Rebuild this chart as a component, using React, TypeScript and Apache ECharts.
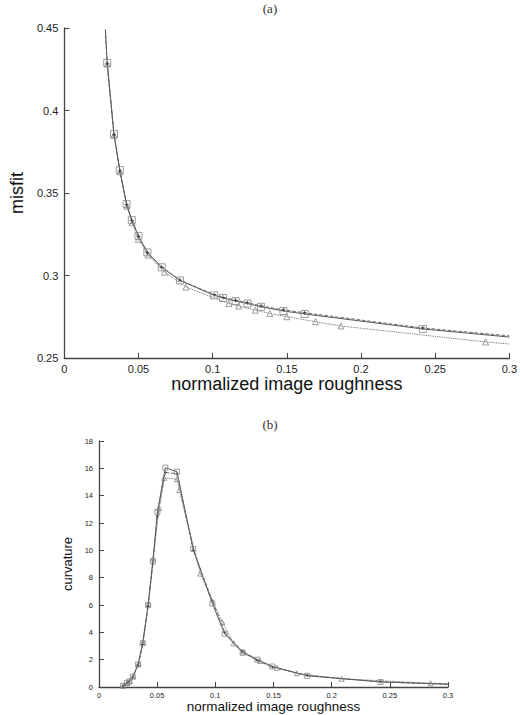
import { useEffect, useRef } from 'react';
import * as echarts from 'echarts';

// ---------------------------------------------------------------------------
// Data
// ---------------------------------------------------------------------------

// (a) misfit vs normalized image roughness
const misfitSquareX = [0.0277, 0.0289, 0.0335, 0.0374, 0.042, 0.0455, 0.05, 0.056, 0.0657, 0.078, 0.101, 0.107, 0.1155, 0.1235, 0.1326, 0.1477, 0.162, 0.2417, 0.3];
const misfitSquareY = [0.449, 0.4288, 0.3858, 0.3639, 0.3433, 0.3336, 0.324, 0.314, 0.305, 0.297, 0.288, 0.2864, 0.2845, 0.283, 0.281, 0.2785, 0.2767, 0.2676, 0.2627];
const misfitPlusY = [0.449, 0.4282, 0.3852, 0.3634, 0.343, 0.3332, 0.3238, 0.3138, 0.305, 0.2972, 0.2884, 0.2868, 0.285, 0.2835, 0.2816, 0.2792, 0.2774, 0.2682, 0.2634];
const misfitTriX = [0.0289, 0.0335, 0.0376, 0.0422, 0.0458, 0.0499, 0.0565, 0.0676, 0.082, 0.111, 0.1175, 0.1287, 0.1385, 0.15, 0.1694, 0.1865, 0.284, 0.3];
const misfitTriY = [0.4282, 0.385, 0.3628, 0.342, 0.332, 0.322, 0.3124, 0.302, 0.293, 0.283, 0.2815, 0.279, 0.277, 0.275, 0.272, 0.2694, 0.2597, 0.2585];

// (b) curvature vs normalized image roughness
const curvSquareX = [0.0207, 0.024, 0.026, 0.029, 0.0336, 0.0375, 0.0422, 0.0463, 0.0502, 0.057, 0.067, 0.081, 0.0975, 0.108, 0.1235, 0.136, 0.149, 0.179, 0.242, 0.3];
const curvSquareY = [0.1, 0.3, 0.4, 0.75, 1.65, 3.2, 6.0, 9.2, 12.8, 16.05, 15.75, 10.1, 6.1, 3.9, 2.5, 2.0, 1.5, 0.82, 0.37, 0.2];
const curvPlusY = [0.08, 0.28, 0.42, 0.7, 1.6, 3.1, 5.9, 9.0, 12.5, 15.7, 15.6, 10.0, 6.3, 4.0, 2.6, 1.95, 1.45, 0.85, 0.38, 0.2];
const curvTriX = [0.021, 0.0245, 0.0265, 0.0295, 0.034, 0.038, 0.0425, 0.0465, 0.0517, 0.056, 0.067, 0.069, 0.087, 0.106, 0.1157, 0.124, 0.1385, 0.153, 0.17, 0.2086, 0.285, 0.3];
const curvTriY = [0.1, 0.3, 0.45, 0.8, 1.7, 3.3, 6.1, 9.4, 13.1, 15.3, 15.2, 14.4, 8.3, 4.75, 3.2, 2.6, 1.9, 1.4, 1.0, 0.6, 0.28, 0.24];

const xTicks = [0, 0.05, 0.1, 0.15, 0.2, 0.25, 0.3];

// ---------------------------------------------------------------------------
// Helpers
// ---------------------------------------------------------------------------

const LINE = '#5a5a5a';
const MARK = '#858585';
const SANS = '"Liberation Sans", Arial, sans-serif';
const PLUS = 'path://M4,0H6V4H10V6H6V10H4V6H0V4H4Z';

// first/last points of the curves carry no marker (curve ends)
function pts(xs: number[], ys: number[], bare: number[]) {
  return xs.map((x, i) =>
    bare.includes(i) ? { value: [x, ys[i]], symbol: 'none' } : { value: [x, ys[i]] },
  );
}

function lineSeries(
  name: string,
  data: any[],
  idx: number,
  type: 'solid' | 'dashed' | 'dotted',
  symbol: string,
  size: number,
  filled: boolean,
) {
  return {
    name,
    type: 'line',
    xAxisIndex: idx,
    yAxisIndex: idx,
    data,
    symbol,
    symbolSize: size,
    showAllSymbol: true,
    smooth: false,
    lineStyle: { color: LINE, width: type === 'solid' ? 1 : 0.9, type },
    itemStyle: {
      color: filled ? '#3a3a3a' : 'rgba(255,255,255,0)',
      borderColor: MARK,
      borderWidth: filled ? 0 : 0.8,
    },
    emphasis: { disabled: true },
    z: 3,
  };
}

function axisBase(fontSize: number, margin: number) {
  return {
    axisLine: { show: true, onZero: false, lineStyle: { color: '#444', width: 1.3 } },
    axisTick: { show: true, inside: true, length: 5, lineStyle: { color: '#444' } },
    axisLabel: { fontSize, color: '#222', fontFamily: SANS, margin },
    splitLine: { show: false },
  };
}

// ---------------------------------------------------------------------------
// Component
// ---------------------------------------------------------------------------

export default function App() {
  const ref = useRef<HTMLDivElement | null>(null);

  useEffect(() => {
    if (!ref.current) return;
    const chart = echarts.init(ref.current, undefined, { renderer: 'svg' });

    const option: any = {
      animation: false,
      backgroundColor: '#fff',
      grid: [
        { left: 54, top: 28, width: 457, height: 330 },
        { left: 99, top: 441, width: 349, height: 246 },
      ],
      xAxis: [
        {
          ...axisBase(11, 5),
          gridIndex: 0,
          type: 'value',
          min: xTicks[0],
          max: xTicks[xTicks.length - 1],
          interval: 0.05,
          name: 'normalized image roughness',
          nameLocation: 'middle',
          nameGap: 17,
          nameTextStyle: { fontSize: 18, color: '#111', fontFamily: SANS },
        },
        {
          ...axisBase(7.5, 4),
          gridIndex: 1,
          type: 'value',
          min: xTicks[0],
          max: xTicks[xTicks.length - 1],
          interval: 0.05,
          name: 'normalized image roughness',
          nameLocation: 'middle',
          nameGap: 11,
          nameTextStyle: { fontSize: 13.5, color: '#111', fontFamily: SANS },
        },
      ],
      yAxis: [
        {
          ...axisBase(11, 6),
          gridIndex: 0,
          type: 'value',
          min: 0.25,
          max: 0.45,
          interval: 0.05,
          name: 'misfit',
          nameLocation: 'middle',
          nameGap: 33,
          nameTextStyle: { fontSize: 18, color: '#111', fontFamily: SANS },
        },
        {
          ...axisBase(7.5, 6),
          gridIndex: 1,
          type: 'value',
          min: 0,
          max: 18,
          interval: 2,
          name: 'curvature',
          nameLocation: 'middle',
          nameGap: 19,
          nameTextStyle: { fontSize: 13, color: '#111', fontFamily: SANS },
        },
      ],
      graphic: [
        {
          type: 'text',
          x: 270,
          y: 8,
          style: { text: '(a)', align: 'center', verticalAlign: 'middle', font: '13px "Liberation Serif", serif', fill: '#333' },
        },
        {
          type: 'text',
          x: 270,
          y: 424,
          style: { text: '(b)', align: 'center', verticalAlign: 'middle', font: '13px "Liberation Serif", serif', fill: '#333' },
        },
      ],
      series: [
        lineSeries('misfit-tri', pts(misfitTriX, misfitTriY, [misfitTriX.length - 1]), 0, 'dotted', 'triangle', 6, false),
        lineSeries('misfit-plus', pts(misfitSquareX, misfitPlusY, [0, misfitSquareX.length - 1]), 0, 'dashed', PLUS, 4, true),
        lineSeries('misfit-sq', pts(misfitSquareX, misfitSquareY, [0, misfitSquareX.length - 1]), 0, 'solid', 'rect', 7, false),
        lineSeries('curv-tri', pts(curvTriX, curvTriY, [curvTriX.length - 1]), 1, 'dotted', 'triangle', 5, false),
        lineSeries('curv-plus', pts(curvSquareX, curvPlusY, [curvSquareX.length - 1]), 1, 'dashed', PLUS, 3, true),
        lineSeries('curv-sq', pts(curvSquareX, curvSquareY, [curvSquareX.length - 1]), 1, 'solid', 'rect', 5, false),
      ],
    };

    chart.setOption(option);
    return () => chart.dispose();
  }, []);

  return (
    <div
      ref={ref}
      style={{ position: 'fixed', left: 0, top: 0, width: 520, height: 715, background: '#fff' }}
    />
  );
}
